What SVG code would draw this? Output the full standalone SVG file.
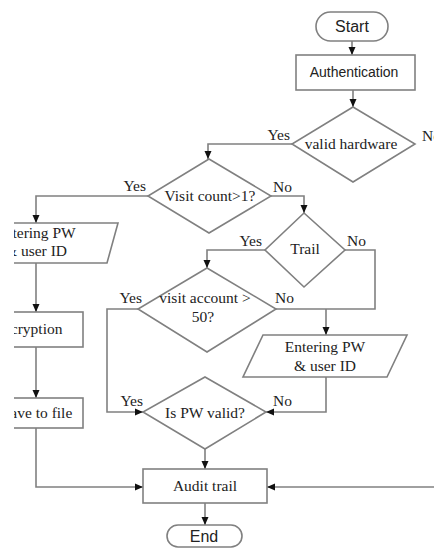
<svg xmlns="http://www.w3.org/2000/svg" width="434" height="549" viewBox="0 0 434 549">
<style>
.s{fill:#fff;stroke:#808080;stroke-width:1.6}
.c{fill:none;stroke:#808080;stroke-width:1.6}
.t{font-family:"Liberation Serif","Times New Roman",serif;font-size:15.5px;fill:#222;text-anchor:middle}
.l{font-family:"Liberation Serif","Times New Roman",serif;font-size:15.5px;fill:#222}
.h{font-family:"Liberation Sans",Arial,sans-serif;fill:#222;text-anchor:middle}
</style>
<defs>
<marker id="arr" viewBox="0 0 8 8" refX="8" refY="4" markerWidth="8" markerHeight="8" orient="auto" markerUnits="userSpaceOnUse"><path d="M0,0.5 L8,4 L0,7.5z" fill="#111"/></marker>
<clipPath id="crop"><rect x="14" y="0" width="420" height="549"/></clipPath>
</defs>
<rect width="434" height="549" fill="#fff"/>
<g clip-path="url(#crop)">
<g id="connectors">
<path class="c" d="M352,41 V55" marker-end="url(#arr)"/>
<path class="c" d="M353,90 V107" marker-end="url(#arr)"/>
<path class="c" d="M292,144 H208 V159" marker-end="url(#arr)"/>
<path class="c" d="M148,196 H36 V223" marker-end="url(#arr)"/>
<path class="c" d="M36,263 V312" marker-end="url(#arr)"/>
<path class="c" d="M36,347 V398" marker-end="url(#arr)"/>
<path class="c" d="M36,428 V487 H143" marker-end="url(#arr)"/>
<path class="c" d="M271,196 H304 V213" marker-end="url(#arr)"/>
<path class="c" d="M265,250 H207 V268" marker-end="url(#arr)"/>
<path class="c" d="M138,309 H107 V412 H143" marker-end="url(#arr)"/>
<path class="c" d="M345,250 H375 V309 H276"/>
<path class="c" d="M326,309 V335" marker-end="url(#arr)"/>
<path class="c" d="M326,377 V412 H266" marker-end="url(#arr)"/>
<path class="c" d="M205,449 V469" marker-end="url(#arr)"/>
<path class="c" d="M434,487 H267" marker-end="url(#arr)"/>
<path class="c" d="M205,503 V525" marker-end="url(#arr)"/>
<text class="l" x="290" y="140" text-anchor="end">Yes</text>
<text class="l" x="422" y="141">No</text>
<text class="l" x="146" y="191" text-anchor="end">Yes</text>
<text class="l" x="273" y="192">No</text>
<text class="l" x="262" y="246" text-anchor="end">Yes</text>
<text class="l" x="347" y="246">No</text>
<text class="l" x="142" y="303" text-anchor="end">Yes</text>
<text class="l" x="275" y="303">No</text>
<text class="l" x="143" y="406" text-anchor="end">Yes</text>
<text class="l" x="273" y="406">No</text>
</g>
<g id="start"><rect class="s" x="316" y="12" width="72" height="29" rx="14.5"/><text class="h" x="352" y="32" font-size="16">Start</text></g>
<g id="authentication"><rect class="s" x="296" y="55" width="119" height="35"/><text class="h" x="354" y="77" font-size="14">Authentication</text></g>
<g id="valid-hardware"><polygon class="s" points="353,107 415,144 353,182 292,144"/><text class="t" x="351" y="149">valid hardware</text></g>
<g id="visit-count"><polygon class="s" points="209,159 271,196 209,233 148,196"/><text class="t" x="210" y="201">Visit count&gt;1?</text></g>
<g id="enter-pw-left"><polygon class="s" points="-50,223 118,223 107,263 -61,263"/><text class="t" x="35.5" y="238">Entering PW</text><text class="t" x="36" y="256">&amp; user ID</text></g>
<g id="encryption"><rect class="s" x="-11" y="312" width="94" height="35"/><text class="t" x="28" y="334">Encryption</text></g>
<g id="save-to-file"><rect class="s" x="-11" y="398" width="94" height="30"/><text class="t" x="37" y="418">Save to file</text></g>
<g id="trail"><polygon class="s" points="304,213 345,250 304,287 265,250"/><text class="t" x="305" y="254">Trail</text></g>
<g id="visit-account"><polygon class="s" points="207,268 276,309 207,352 138,309"/><text class="t" x="205" y="303">visit account &gt;</text><text class="t" x="203" y="322">50?</text></g>
<g id="enter-pw-right"><polygon class="s" points="263,335 407,335 387,377 243,377"/><text class="t" x="325" y="352">Entering PW</text><text class="t" x="325" y="371">&amp; user ID</text></g>
<g id="pw-valid"><polygon class="s" points="205,377 266,412 205,449 143,412"/><text class="t" x="205" y="418">Is PW valid?</text></g>
<g id="audit-trail"><rect class="s" x="143" y="469" width="124" height="34"/><text class="t" x="205" y="491">Audit trail</text></g>
<g id="end"><rect class="s" x="167" y="525" width="75" height="22" rx="11"/><text class="h" x="204" y="542" font-size="16">End</text></g>
</g>
</svg>
